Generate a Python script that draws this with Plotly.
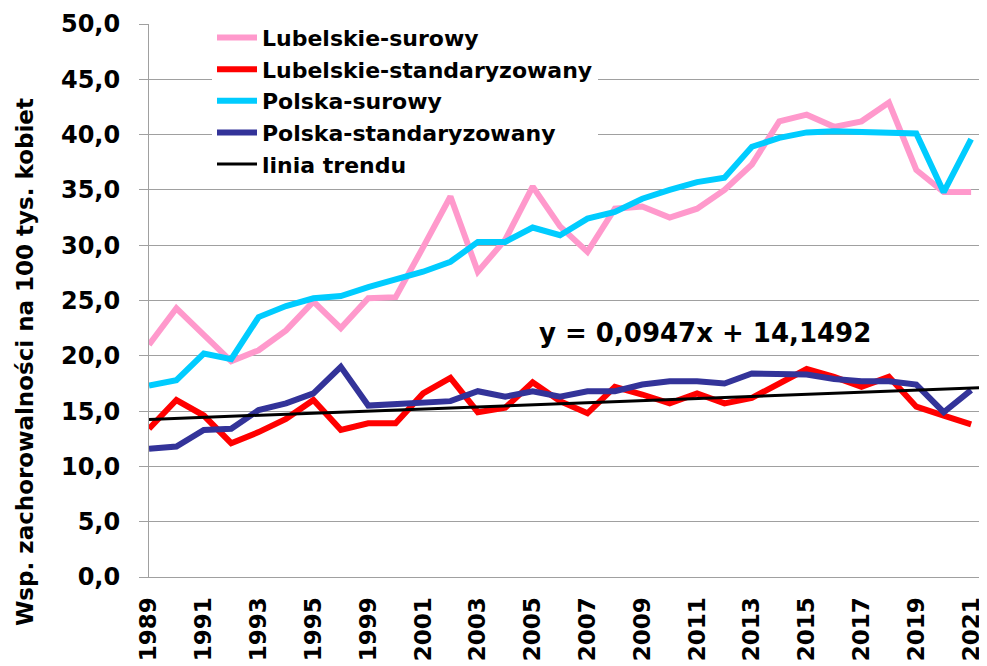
import plotly.graph_objects as go

years = ["1989", "1990", "1991", "1992", "1993", "1994", "1995", "1997",
         "1999", "2000", "2001", "2002", "2003", "2004", "2005", "2006",
         "2007", "2008", "2009", "2010", "2011", "2012", "2013", "2014",
         "2015", "2016", "2017", "2018", "2019", "2020", "2021"]

lubelskie_surowy = [21.0, 24.3, 21.9, 19.5, 20.5, 22.3, 24.9, 22.5,
                    25.2, 25.3, 29.8, 34.4, 27.6, 30.5, 35.3, 31.7,
                    29.4, 33.3, 33.5, 32.5, 33.3, 35.0, 37.3, 41.2,
                    41.8, 40.7, 41.2, 42.9, 36.8, 34.8, 34.8]

lubelskie_std = [13.4, 16.0, 14.6, 12.1, 13.1, 14.3, 16.0, 13.3,
                 13.9, 13.9, 16.6, 18.0, 14.9, 15.3, 17.6, 15.9,
                 14.8, 17.2, 16.5, 15.7, 16.6, 15.7, 16.2, 17.5,
                 18.8, 18.1, 17.2, 18.1, 15.4, 14.6, 13.8]

polska_surowy = [17.3, 17.8, 20.2, 19.7, 23.5, 24.5, 25.2, 25.4,
                 26.2, 26.9, 27.6, 28.5, 30.3, 30.3, 31.6, 30.9,
                 32.4, 33.0, 34.2, 35.0, 35.7, 36.1, 38.9, 39.7,
                 40.2, 40.3, 40.2, 40.2, 40.1, 34.8, 39.6]

polska_std = [11.6, 11.8, 13.3, 13.4, 15.1, 15.7, 16.6, 19.0,
              15.5, 15.6, 15.8, 15.9, 16.8, 16.3, 16.8, 16.3,
              16.8, 16.8, 17.4, 17.7, 17.7, 17.5, 18.4, 18.3,
              18.3, 17.9, 17.7, 17.7, 17.4, 14.9, 16.9]

trend_slope = 0.0947
trend_intercept = 14.1492
trend_forward = 0.58  # forecast forward (periods)

tick_years = years[::2]

x = list(range(len(years)))
x_end = len(years) - 1 + trend_forward
trend_x = [0, x_end]
trend_y = [trend_slope * (v + 1) + trend_intercept for v in trend_x]

fig = go.Figure()
series = [
    ("Lubelskie-surowy", lubelskie_surowy, "#FF99CC", 6),
    ("Lubelskie-standaryzowany", lubelskie_std, "#FF0000", 6),
    ("Polska-surowy", polska_surowy, "#00CCFF", 6),
    ("Polska-standaryzowany", polska_std, "#333399", 6),
]
for name, vals, col, w in series:
    fig.add_trace(go.Scatter(x=x, y=vals, mode="lines", name=name,
                             line=dict(color=col, width=w)))
fig.add_trace(go.Scatter(x=trend_x, y=trend_y, mode="lines", name="linia trendu",
                         line=dict(color="#000000", width=3)))

font_family = "DejaVu Sans"

# plot area spans 838 x 553 px
fig.add_annotation(x=(537 - 149) / 838, y=(577 - 333) / 553, xref="paper", yref="paper",
                   xanchor="left", yanchor="middle", showarrow=False,
                   text="<b>y = 0,0947x + 14,1492</b>",
                   font=dict(size=26, color="#000000", family=font_family))
fig.add_annotation(x=(25 - 149) / 838, y=(577 - 362) / 553, xref="paper", yref="paper",
                   xanchor="center", yanchor="middle", showarrow=False, textangle=-90,
                   text="<b>Wsp. zachorowalności na 100 tys. kobiet</b>",
                   font=dict(size=23, color="#000000", family=font_family))

fig.update_layout(
    width=987, height=666,
    margin=dict(l=141, r=8, t=16, b=97, autoexpand=False),
    paper_bgcolor="white", plot_bgcolor="white",
    separators=", ",
    font=dict(family=font_family, color="#000000"),
    showlegend=True,
    legend=dict(x=(212 - 149) / 838, y=1.013, xanchor="left", yanchor="top",
                bgcolor="white", borderwidth=0,
                font=dict(size=22, family=font_family, weight="bold"),
                tracegroupgap=0, itemwidth=40),
    xaxis=dict(range=[0, x_end], tickmode="array",
               tickvals=x[::2], ticktext=tick_years,
               tickangle=-90, showgrid=False, zeroline=False,
               showline=True, linecolor="#A0A0A0", linewidth=1,
               ticks="", ticklabelstandoff=10, automargin=False,
               tickfont=dict(size=23, family=font_family, weight="bold")),
    yaxis=dict(range=[0, 50], dtick=5, tickformat=".1f",
               showgrid=True, gridcolor="#A0A0A0", gridwidth=1,
               zeroline=False, showline=True, linecolor="#A0A0A0", linewidth=1,
               ticks="outside", ticklen=9, tickcolor="#A0A0A0",
               ticklabelstandoff=14, automargin=False,
               tickfont=dict(size=24, family=font_family, weight="bold")),
)

fig.write_html("out.html")
